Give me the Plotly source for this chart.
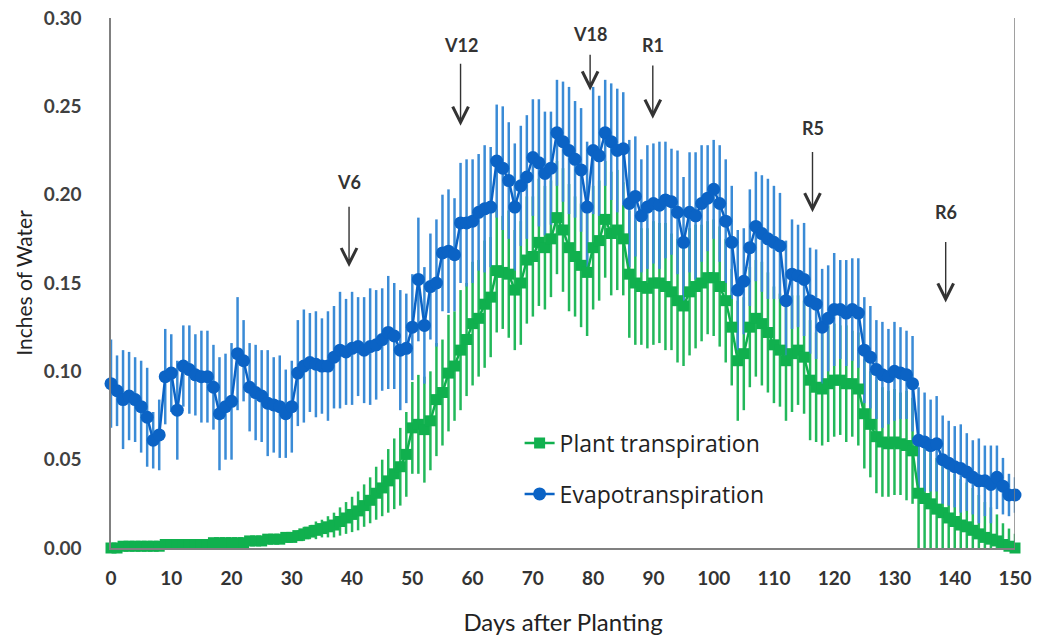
import numpy as np
import plotly.graph_objects as go

days = list(range(0, 151))

et_values = [
    0.093, 0.089, 0.084, 0.086, 0.084, 0.080, 0.074, 0.061, 0.064, 0.097,
    0.099, 0.078, 0.103, 0.101, 0.098, 0.097, 0.097, 0.091, 0.076, 0.080,
    0.083, 0.110, 0.106, 0.091, 0.088, 0.086, 0.082, 0.081, 0.080, 0.076,
    0.080, 0.099, 0.103, 0.105, 0.104, 0.103, 0.103, 0.108, 0.112, 0.111,
    0.113, 0.114, 0.112, 0.114, 0.115, 0.118, 0.122, 0.120, 0.112, 0.113,
    0.125, 0.152, 0.126, 0.148, 0.150, 0.167, 0.168, 0.166, 0.184, 0.184,
    0.185, 0.190, 0.192, 0.193, 0.219, 0.215, 0.208, 0.193, 0.205, 0.210,
    0.221, 0.218, 0.212, 0.215, 0.235, 0.230, 0.225, 0.220, 0.214, 0.193,
    0.225, 0.222, 0.235, 0.230, 0.225, 0.226, 0.195, 0.199, 0.188, 0.193,
    0.195, 0.194, 0.197, 0.196, 0.190, 0.173, 0.190, 0.188, 0.195, 0.198,
    0.203, 0.195, 0.185, 0.173, 0.146, 0.151, 0.170, 0.182, 0.178, 0.175,
    0.173, 0.171, 0.140, 0.155, 0.154, 0.152, 0.140, 0.138, 0.125, 0.130,
    0.135, 0.135, 0.133, 0.135, 0.133, 0.112, 0.108, 0.101, 0.098, 0.097,
    0.100, 0.099, 0.098, 0.093, 0.061, 0.060, 0.058, 0.059, 0.050, 0.048,
    0.046, 0.045, 0.043, 0.040, 0.038, 0.038, 0.036, 0.040, 0.035, 0.030, 0.030,
]

et_errors = [
    0.025, 0.020, 0.028, 0.025, 0.024, 0.026, 0.028, 0.016, 0.020, 0.027,
    0.022, 0.028, 0.023, 0.025, 0.023, 0.026, 0.026, 0.024, 0.032, 0.030,
    0.033, 0.032, 0.023, 0.025, 0.027, 0.026, 0.030, 0.027, 0.029, 0.025,
    0.026, 0.030, 0.032, 0.028, 0.030, 0.027, 0.031, 0.029, 0.033, 0.030,
    0.032, 0.028, 0.030, 0.033, 0.031, 0.029, 0.032, 0.030, 0.034, 0.031,
    0.030, 0.035, 0.033, 0.030, 0.036, 0.033, 0.035, 0.032, 0.034, 0.036,
    0.035, 0.033, 0.036, 0.034, 0.032, 0.035, 0.033, 0.036, 0.034, 0.035,
    0.033, 0.036, 0.035, 0.032, 0.030, 0.034, 0.036, 0.033, 0.035, 0.037,
    0.036, 0.034, 0.030, 0.033, 0.035, 0.032, 0.036, 0.034, 0.032, 0.035,
    0.034, 0.036, 0.033, 0.030, 0.035, 0.037, 0.034, 0.036, 0.033, 0.030,
    0.028, 0.033, 0.035, 0.032, 0.034, 0.030, 0.033, 0.031, 0.033, 0.034,
    0.032, 0.030, 0.034, 0.031, 0.029, 0.032, 0.030, 0.031, 0.033, 0.030,
    0.032, 0.028, 0.030, 0.029, 0.031, 0.030, 0.029, 0.028, 0.030, 0.027,
    0.028, 0.026, 0.025, 0.027, 0.030, 0.028, 0.026, 0.027, 0.025, 0.024,
    0.023, 0.025, 0.022, 0.021, 0.024, 0.020, 0.022, 0.018, 0.016, 0.012, 0.010,
]

t_values = [
    0.000, 0.000, 0.001, 0.001, 0.001, 0.001, 0.001, 0.001, 0.001, 0.002,
    0.002, 0.002, 0.002, 0.002, 0.002, 0.002, 0.002, 0.003, 0.003, 0.003,
    0.003, 0.003, 0.003, 0.004, 0.004, 0.004, 0.005, 0.005, 0.005, 0.006,
    0.006, 0.007, 0.008, 0.009, 0.010, 0.011, 0.012, 0.013, 0.015, 0.017,
    0.019, 0.021, 0.024, 0.027, 0.031, 0.034, 0.038, 0.042, 0.046, 0.053,
    0.068, 0.070, 0.067, 0.072, 0.084, 0.088, 0.099, 0.103, 0.112, 0.118,
    0.127, 0.130, 0.138, 0.142, 0.157, 0.156, 0.155, 0.146, 0.150, 0.163,
    0.165, 0.173, 0.170, 0.175, 0.187, 0.180, 0.170, 0.165, 0.160, 0.156,
    0.170, 0.174, 0.186, 0.178, 0.180, 0.175, 0.155, 0.150, 0.148, 0.147,
    0.150, 0.150, 0.148, 0.145, 0.140, 0.137, 0.145, 0.148, 0.150, 0.153,
    0.153, 0.148, 0.140, 0.125, 0.106, 0.110, 0.125, 0.130, 0.127, 0.122,
    0.115, 0.112, 0.106, 0.110, 0.112, 0.108, 0.095, 0.091, 0.090, 0.093,
    0.095, 0.095, 0.093, 0.093, 0.090, 0.076, 0.070, 0.063, 0.060, 0.059,
    0.060, 0.059, 0.058, 0.055, 0.031, 0.028, 0.025, 0.022, 0.020, 0.017,
    0.015, 0.013, 0.012, 0.010, 0.008, 0.006, 0.005, 0.004, 0.002, 0.001, 0.000,
]

t_errors = [
    0.001, 0.001, 0.001, 0.001, 0.001, 0.001, 0.001, 0.001, 0.001, 0.001,
    0.001, 0.001, 0.001, 0.001, 0.001, 0.001, 0.001, 0.001, 0.001, 0.001,
    0.002, 0.002, 0.002, 0.002, 0.002, 0.002, 0.002, 0.002, 0.002, 0.002,
    0.003, 0.003, 0.004, 0.004, 0.005, 0.005, 0.006, 0.007, 0.008, 0.009,
    0.010, 0.011, 0.012, 0.013, 0.015, 0.016, 0.018, 0.020, 0.022, 0.024,
    0.026, 0.028, 0.030, 0.028, 0.032, 0.030, 0.033, 0.031, 0.034, 0.032,
    0.035, 0.033, 0.036, 0.034, 0.035, 0.032, 0.036, 0.034, 0.035, 0.036,
    0.034, 0.036, 0.035, 0.033, 0.032, 0.035, 0.036, 0.034, 0.035, 0.036,
    0.035, 0.034, 0.033, 0.035, 0.034, 0.032, 0.036, 0.035, 0.033, 0.034,
    0.035, 0.034, 0.036, 0.033, 0.035, 0.034, 0.036, 0.035, 0.033, 0.032,
    0.033, 0.034, 0.035, 0.033, 0.034, 0.032, 0.034, 0.033, 0.035, 0.034,
    0.033, 0.032, 0.034, 0.033, 0.031, 0.032, 0.034, 0.031, 0.032, 0.033,
    0.032, 0.031, 0.033, 0.030, 0.032, 0.031, 0.030, 0.032, 0.031, 0.030,
    0.030, 0.029, 0.031, 0.030, 0.032, 0.030, 0.031, 0.029, 0.030, 0.028,
    0.027, 0.026, 0.025, 0.024, 0.022, 0.020, 0.018, 0.015, 0.012, 0.010, 0.008,
]

stage_labels = ["V6", "V12", "V18", "R1", "R5", "R6"]
stage_days = [39.5, 58.0, 79.5, 89.9, 116.4, 138.5]
stage_text_y = [0.207, 0.285, 0.291, 0.285, 0.238, 0.190]
stage_arrow_top = [0.194, 0.275, 0.280, 0.274, 0.225, 0.174]
stage_arrow_tip = [0.159, 0.239, 0.259, 0.243, 0.190, 0.139]

x_ticks = list(range(0, 151, 10))
y_ticks = [0.00, 0.05, 0.10, 0.15, 0.20, 0.25, 0.30]

et_arr = np.array(et_values)
t_arr = np.array(t_values)
et_minus = np.minimum(np.array(et_errors), et_arr)
t_minus = np.minimum(np.array(t_errors), t_arr)

BLUE = "#0b63c5"
BLUE_BAR = "#3a8bd6"
GREEN = "#10b04e"
GREEN_BAR = "#22b85a"

fig = go.Figure()
# error bars first (both series), then lines/markers on top
fig.add_trace(go.Scatter(
    x=days, y=t_values, mode="markers", marker=dict(size=1, opacity=0),
    error_y=dict(type="data", array=t_errors, arrayminus=list(t_minus), symmetric=False,
                 color=GREEN_BAR, thickness=2.5, width=0),
    cliponaxis=False, showlegend=False, hoverinfo="skip",
))
fig.add_trace(go.Scatter(
    x=days, y=et_values, mode="markers", marker=dict(size=1, opacity=0),
    error_y=dict(type="data", array=et_errors, arrayminus=list(et_minus), symmetric=False,
                 color=BLUE_BAR, thickness=2.5, width=0),
    cliponaxis=False, showlegend=False, hoverinfo="skip",
))
fig.add_trace(go.Scatter(
    x=days, y=t_values, name="Plant transpiration", mode="lines+markers",
    line=dict(color=GREEN, width=2.5),
    marker=dict(symbol="square", size=11, color=GREEN),
    cliponaxis=False, legend="legend", showlegend=True,
))
fig.add_trace(go.Scatter(
    x=days, y=et_values, name="Evapotranspiration", mode="lines+markers",
    line=dict(color=BLUE, width=2.5),
    marker=dict(symbol="circle", size=13, color=BLUE),
    cliponaxis=False, legend="legend2", showlegend=True,
))

annotations = []
for lab, d, ty, top, tip in zip(stage_labels, stage_days, stage_text_y, stage_arrow_top, stage_arrow_tip):
    annotations.append(dict(x=d, y=ty, xref="x", yref="y", text="<b>" + lab + "</b>",
                            showarrow=False, font=dict(family="Lato", size=18, color="#333333")))
    annotations.append(dict(x=d, y=tip, ax=d, ay=top, xref="x", yref="y", axref="x", ayref="y",
                            text="", showarrow=True, arrowhead=5, arrowsize=2.2, arrowwidth=1.4,
                            arrowcolor="#333333"))

fig.update_layout(
    width=1050, height=638,
    margin=dict(l=111, r=35, t=18, b=90, autoexpand=False),
    paper_bgcolor="white", plot_bgcolor="white",
    showlegend=True,
    font=dict(family="Lato", color="#333333"),
    annotations=annotations,
    shapes=[dict(type="line", xref="x", yref="y", x0=150, x1=150, y0=0, y1=0.30,
                 line=dict(color="#808080", width=1.5))],
    legend=dict(x=0.452, y=0.198, xanchor="left", yanchor="middle", bgcolor="rgba(0,0,0,0)",
                font=dict(family="Open Sans", size=23, color="#222222")),
    legend2=dict(x=0.452, y=0.102, xanchor="left", yanchor="middle", bgcolor="rgba(0,0,0,0)",
                 font=dict(family="Open Sans", size=23, color="#222222")),
    xaxis=dict(range=[0, 150], tickvals=x_ticks, showgrid=False, zeroline=False,
               showline=True, linecolor="#808080", linewidth=1.5, ticks="",
               ticklabelstandoff=12, automargin=False,
               tickfont=dict(family="Lato", size=19, color="#333333", weight="bold"),
               title=dict(text="Days after Planting", standoff=27,
                          font=dict(family="Lato", size=24, color="#222222"))),
    yaxis=dict(range=[0, 0.30], tickvals=y_ticks, tickformat=".2f", showgrid=False,
               zeroline=False, showline=True, linecolor="#808080", linewidth=1.5, ticks="",
               ticklabelstandoff=24, automargin=False,
               tickfont=dict(family="Lato", size=19, color="#404040", weight="bold"),
               title=dict(text="Inches of Water", standoff=6,
                          font=dict(family="Lato", size=21, color="#222222"))),
)

# remove the default 8px page margin so the 1050x638 figure fills the window exactly
fig.write_html(
    "out.html",
    config={"displayModeBar": False},
    post_script="document.body.style.margin='0';document.body.style.overflow='hidden';",
)
